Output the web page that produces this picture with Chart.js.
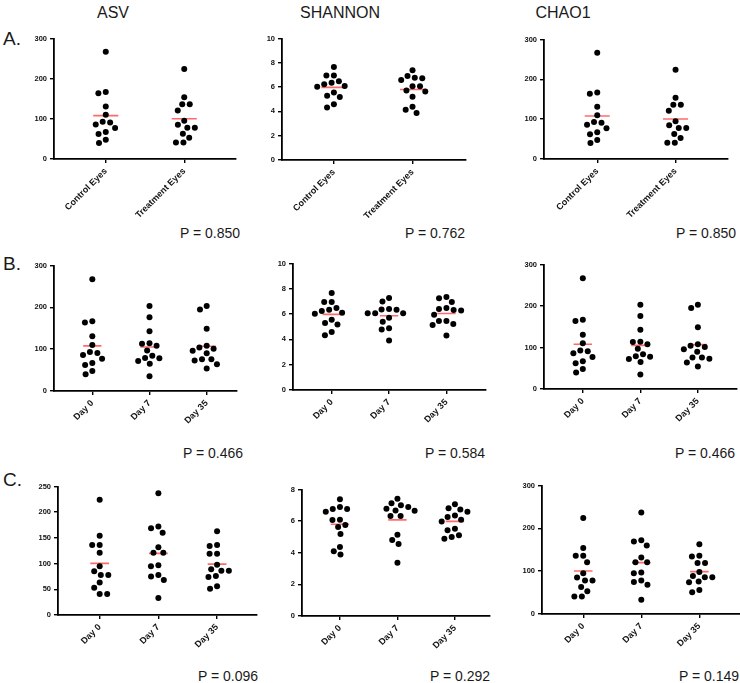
<!DOCTYPE html>
<html>
<head>
<meta charset="utf-8">
<script src="https://cdn.jsdelivr.net/npm/chart.js@4.4.1/dist/chart.umd.min.js"></script>
<style>
  body { margin: 0; background: #fff; width: 740px; height: 683px; position: relative; overflow: hidden;
         font-family: "Liberation Sans", Arial, sans-serif; color: #1a1a1a; }
  .t { position: absolute; top: 5px; font-size: 16px; line-height: 16px; transform: translateX(-50%); }
  .row { position: absolute; left: 3px; font-size: 19px; line-height: 19px; }
  .p { position: absolute; font-size: 14px; line-height: 14px; white-space: nowrap; }
  canvas { position: absolute; }
</style>
</head>
<body>
<div class="t" style="left:113px">ASV</div>
<div class="t" style="left:340px">SHANNON</div>
<div class="t" style="left:563px">CHAO1</div>
<div class="row" style="top:29px">A.</div>
<div class="row" style="top:254px">B.</div>
<div class="row" style="top:470px">C.</div>

<div class="p" style="top:226px;right:500px">P = 0.850</div>
<div class="p" style="top:226px;right:275px">P = 0.762</div>
<div class="p" style="top:226px;right:4px">P = 0.850</div>
<div class="p" style="top:446px;right:497px">P = 0.466</div>
<div class="p" style="top:446px;right:255px">P = 0.584</div>
<div class="p" style="top:446px;right:5px">P = 0.466</div>
<div class="p" style="top:669px;right:482px">P = 0.096</div>
<div class="p" style="top:669px;right:250px">P = 0.292</div>
<div class="p" style="top:669px;right:1px">P = 0.149</div>

<script>
// categories
const catsEyes = ['Control Eyes', 'Treatment Eyes'];
const catsDays = ['Day 0', 'Day 7', 'Day 35'];

// y tick labels
const ticksCount300 = [0, 100, 200, 300];
const ticksCount250 = [0, 50, 100, 150, 200, 250];
const ticksShannon10 = [0, 2, 4, 6, 8, 10];
const ticksShannon8 = [0, 2, 4, 6, 8];

// row A - control vs treatment eyes
const asvControl = [267, 167, 164, 131, 110, 93, 86, 91, 77, 67, 62, 48, 40];
const asvTreatment = [224, 154, 136, 136, 121, 95, 85, 78, 78, 63, 53, 41, 41];
const shannonControl = [7.66, 6.95, 6.95, 6.49, 6.35, 6.24, 6.10, 6.02, 5.56, 5.29, 5.18, 4.58, 4.33];
const shannonTreatment = [7.38, 6.92, 6.76, 6.59, 6.73, 6.08, 6.08, 5.64, 5.72, 5.20, 4.39, 4.14, 3.87];
const chaoControl = [267, 167, 164, 131, 110, 93, 86, 91, 77, 67, 62, 48, 40];
const chaoTreatment = [224, 154, 136, 136, 121, 95, 85, 78, 78, 63, 53, 41, 41];

// row B - control eyes over time
const asvB0 = [267, 167, 164, 131, 110, 93, 86, 91, 77, 67, 62, 48, 40];
const asvB7 = [203, 176, 143, 113, 114, 108, 97, 79, 84, 78, 72, 65, 35];
const asvB35 = [195, 203, 149, 104, 108, 90, 96, 101, 76, 73, 76, 64, 54];
const shannonB0 = [7.66, 6.95, 6.95, 6.49, 6.35, 6.24, 6.10, 6.02, 5.56, 5.29, 5.18, 4.58, 4.33];
const shannonB7 = [7.28, 7.00, 6.40, 6.34, 6.37, 6.06, 6.06, 6.06, 5.72, 5.40, 4.88, 4.78, 3.92];
const shannonB35 = [7.36, 7.26, 6.95, 6.48, 6.32, 6.29, 6.40, 5.95, 5.46, 5.46, 5.22, 5.14, 4.31];
const chaoB0 = [267, 167, 164, 131, 110, 93, 86, 91, 77, 67, 62, 48, 40];
const chaoB7 = [203, 176, 143, 113, 114, 108, 97, 79, 84, 78, 72, 65, 35];
const chaoB35 = [195, 203, 149, 104, 108, 90, 96, 101, 76, 73, 76, 64, 54];

// row C - treatment eyes over time
const asvC0 = [224, 154, 136, 136, 121, 95, 85, 78, 78, 63, 53, 41, 41];
const asvC7 = [237, 172, 169, 160, 132, 121, 121, 95, 97, 75, 78, 68, 33];
const asvC35 = [163, 136, 134, 119, 119, 98, 86, 86, 89, 76, 74, 56, 51];
const shannonC0 = [7.38, 6.90, 6.76, 6.59, 6.76, 6.09, 6.07, 5.76, 5.63, 5.18, 4.37, 4.10, 3.89];
const shannonC7 = [7.42, 7.13, 7.00, 6.78, 6.67, 6.90, 6.65, 6.32, 6.32, 5.14, 4.80, 4.55, 3.37];
const shannonC35 = [7.07, 6.74, 6.59, 6.82, 6.26, 6.36, 5.97, 6.09, 5.51, 5.43, 5.11, 4.89, 4.99];
const chaoC0 = [224, 154, 136, 136, 121, 95, 85, 78, 78, 63, 53, 41, 41];
const chaoC7 = [237, 172, 169, 160, 132, 121, 121, 95, 97, 75, 78, 68, 33];
const chaoC35 = [163, 136, 134, 119, 119, 98, 86, 86, 89, 76, 74, 56, 51];

const FONT = '"Liberation Sans", Arial, sans-serif';
const RED = '#ff6b6b';
const DOT_GAP = 7.5;    // px between dot centres in the swarm
const MEAN_HALF = 0.16; // half width of mean bar, category units
const YW = 36, PT = 6, PR = 6, XH = 60;

// spread dots sideways so they don't overlap (simple beeswarm)
function dodge(ys, d) {
  const order = ys.map((y, i) => i).sort((a, b) => ys[a] - ys[b]);
  const placed = [];
  const xs = [];
  order.forEach(i => {
    const y = ys[i];
    const cands = [0];
    placed.forEach(p => {
      const dy = y - p.y;
      if (Math.abs(dy) < d) {
        const dx = Math.sqrt(d * d - dy * dy);
        cands.push(p.x + dx, p.x - dx);
      }
    });
    cands.sort((a, b) => Math.abs(a) - Math.abs(b) || a - b);
    const x = cands.find(c => placed.every(p => (c - p.x) ** 2 + (y - p.y) ** 2 >= d * d - 0.01));
    xs[i] = x;
    placed.push({ x: x, y: y });
  });
  return xs;
}

const swarm = {
  id: 'swarm',
  afterDatasetsUpdate(chart) {
    const meta = chart.getDatasetMeta(0);
    const pts = chart.data.datasets[0].data;
    const groups = {};
    meta.data.forEach((el, i) => {
      const c = pts[i].x;
      (groups[c] = groups[c] || []).push(el);
    });
    Object.values(groups).forEach(els => {
      const xs = dodge(els.map(e => e.y), DOT_GAP);
      els.forEach((e, k) => { e.x += xs[k]; });
    });
  }
};

function makePanel(rect, cats, groups, yTicks, xMin, xMax) {
  const cv = document.createElement('canvas');
  cv.width = rect.R - rect.L + YW + PR;
  cv.height = rect.B - rect.T + PT + XH;
  cv.style.left = (rect.L - YW) + 'px';
  cv.style.top = (rect.T - PT) + 'px';
  document.body.appendChild(cv);

  const points = [];
  groups.forEach((vals, i) => vals.forEach(v => points.push({ x: i, y: v })));
  const means = groups.map((vals, i) => {
    const m = vals.reduce((a, b) => a + b, 0) / vals.length;
    return {
      data: [{ x: i - MEAN_HALF, y: m }, { x: i + MEAN_HALF, y: m }],
      showLine: true, borderColor: RED, borderWidth: 1.6, pointRadius: 0, order: 1
    };
  });

  new Chart(cv, {
    type: 'scatter',
    data: {
      datasets: [{ data: points, backgroundColor: '#000', borderWidth: 0, pointRadius: 3, order: 0 }].concat(means)
    },
    options: {
      responsive: false,
      animation: false,
      events: [],
      layout: { padding: { top: PT, right: PR, left: 0, bottom: 0 } },
      plugins: { legend: { display: false }, tooltip: { enabled: false } },
      scales: {
        x: {
          type: 'linear', min: xMin, max: xMax,
          afterBuildTicks: s => { s.ticks = cats.map((c, i) => ({ value: i })); },
          afterFit: s => { s.height = XH; },
          grid: { drawOnChartArea: false, drawTicks: true, tickLength: 4, color: '#000', lineWidth: 1.4 },
          border: { display: true, color: '#000', width: 1.8 },
          ticks: {
            callback: v => cats[Math.round(v)], minRotation: 45, maxRotation: 45, autoSkip: false,
            padding: 3, color: '#111', font: { family: FONT, size: 9, weight: 'bold' }
          }
        },
        y: {
          min: 0, max: yTicks[yTicks.length - 1],
          afterBuildTicks: s => { s.ticks = yTicks.map(v => ({ value: v })); },
          afterFit: s => { s.width = YW; },
          grid: { drawOnChartArea: false, drawTicks: true, tickLength: 4, color: '#000', lineWidth: 1.4 },
          border: { display: true, color: '#000', width: 1.8 },
          ticks: { padding: 3, color: '#111', font: { family: FONT, size: 7.5, weight: 'bold' } }
        }
      }
    },
    plugins: [swarm]
  });
}

makePanel({ L: 54, T: 37, R: 236, B: 159 }, catsEyes, [asvControl, asvTreatment], ticksCount300, -0.66, 1.66);
makePanel({ L: 282, T: 37, R: 466, B: 160 }, catsEyes, [shannonControl, shannonTreatment], ticksShannon10, -0.66, 1.68);
makePanel({ L: 544, T: 38, R: 728, B: 159 }, catsEyes, [chaoControl, chaoTreatment], ticksCount300, -0.68, 1.67);

makePanel({ L: 54, T: 264, R: 237, B: 391 }, catsDays, [asvB0, asvB7, asvB35], ticksCount300, -0.67, 2.53);
makePanel({ L: 293, T: 262, R: 486, B: 390 }, catsDays, [shannonB0, shannonB7, shannonB35], ticksShannon10, -0.675, 2.69);
makePanel({ L: 544, T: 263, R: 737, B: 389 }, catsDays, [chaoB0, chaoB7, chaoB35], ticksCount300, -0.675, 2.68);

makePanel({ L: 58, T: 485, R: 257, B: 615 }, catsDays, [asvC0, asvC7, asvC35], ticksCount250, -0.71, 2.68);
makePanel({ L: 302, T: 488, R: 490, B: 616 }, catsDays, [shannonC0, shannonC7, shannonC35], ticksShannon8, -0.66, 2.61);
makePanel({ L: 542, T: 484, R: 740, B: 614 }, catsDays, [chaoC0, chaoC7, chaoC35], ticksCount300, -0.71, 2.7);
</script>
</body>
</html>
